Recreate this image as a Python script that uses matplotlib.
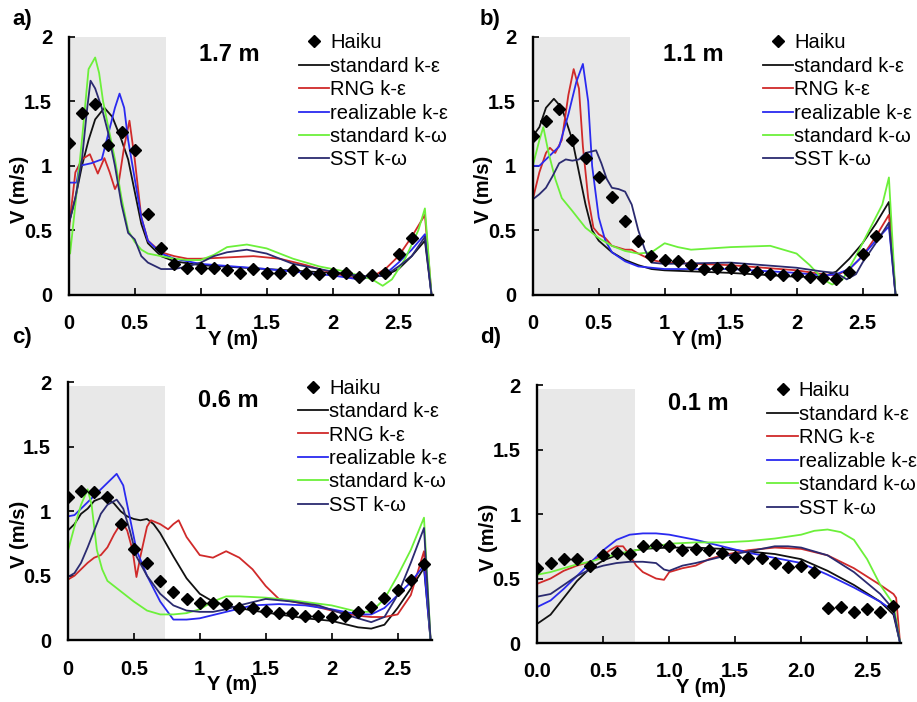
"""Velocity profiles at four heights: Haiku measurements vs five turbulence models."""
import matplotlib.pyplot as plt
import numpy as np

plt.rcParams['font.family'] = ['Liberation Sans', 'DejaVu Sans']

MODELS = ["standard k-ε", "RNG k-ε", "realizable k-ε", "standard k-ω", "SST k-ω"]
COLORS = ["#111111", "#d02a2a", "#2a2af0", "#6cf03a", "#2b2b70"]
HEIGHTS = ["1.7 m", "1.1 m", "0.6 m", "0.1 m"]
PANEL_TAGS = ["a)", "b)", "c)", "d)"]

# measured points (Haiku)
haiku_x = [0.0, 0.1, 0.2, 0.3, 0.4, 0.5, 0.6, 0.7, 0.8, 0.9, 1.0, 1.1, 1.2, 1.3,
           1.4, 1.5, 1.6, 1.7, 1.8, 1.9, 2.0, 2.1, 2.2, 2.3, 2.4, 2.5, 2.6, 2.7]
haiku_a = [1.18, 1.41, 1.48, 1.16, 1.26, 1.12, 0.63, 0.36, 0.24, 0.21, 0.21, 0.21, 0.19, 0.17,
           0.20, 0.17, 0.17, 0.19, 0.17, 0.16, 0.17, 0.17, 0.14, 0.15, 0.17, 0.32, 0.44, None]
haiku_b = [1.23, 1.35, 1.44, 1.20, 1.06, 0.91, 0.76, 0.57, 0.42, 0.30, 0.27, 0.26, 0.23, 0.20,
           0.21, 0.21, 0.20, 0.18, 0.16, 0.15, 0.15, 0.14, 0.13, 0.12, 0.18, 0.32, 0.46, None]
haiku_c = [1.11, 1.16, 1.15, 1.11, 0.90, 0.71, 0.60, 0.46, 0.37, 0.32, 0.29, 0.29, 0.28, 0.25,
           0.25, 0.23, 0.21, 0.21, 0.19, 0.19, 0.18, 0.19, 0.22, 0.26, 0.33, 0.39, 0.47, 0.59]
haiku_d = [0.58, 0.62, 0.65, 0.65, 0.60, 0.68, 0.70, 0.69, 0.75, 0.76, 0.75, 0.72, 0.73, 0.72,
           0.70, 0.67, 0.66, 0.66, 0.62, 0.59, 0.60, 0.55, 0.27, 0.28, 0.24, 0.26, 0.24, 0.29]

# simulated profiles (Y, V) per panel and model
a_std = [(0, 0.55), (0.05, 0.75), (0.1, 1.0), (0.15, 1.2), (0.2, 1.36), (0.27, 1.45), (0.33, 1.38),
         (0.4, 1.2), (0.45, 1.05), (0.5, 0.8), (0.55, 0.55), (0.6, 0.4), (0.7, 0.3), (0.8, 0.26),
         (1.0, 0.23), (1.5, 0.2), (2.0, 0.17), (2.2, 0.14), (2.4, 0.15), (2.5, 0.2), (2.6, 0.3),
         (2.7, 0.42), (2.75, 0)]
a_rng = [(0, 0.5), (0.05, 0.95), (0.1, 1.05), (0.16, 1.09), (0.22, 0.94), (0.27, 1.06), (0.31, 0.95),
         (0.35, 0.82), (0.38, 0.88), (0.42, 1.15), (0.46, 1.35), (0.5, 1.05), (0.55, 0.6), (0.6, 0.42),
         (0.7, 0.33), (0.8, 0.3), (0.9, 0.28), (1.0, 0.28), (1.2, 0.29), (1.4, 0.3), (1.6, 0.28),
         (1.8, 0.23), (2.0, 0.17), (2.2, 0.12), (2.3, 0.14), (2.4, 0.2), (2.5, 0.3), (2.6, 0.45),
         (2.7, 0.62), (2.75, 0)]
a_rea = [(0, 0.87), (0.06, 0.87), (0.08, 1.0), (0.17, 1.02), (0.25, 1.05), (0.3, 1.25), (0.35, 1.45),
         (0.385, 1.56), (0.42, 1.45), (0.45, 1.2), (0.5, 0.9), (0.55, 0.6), (0.6, 0.42), (0.7, 0.32),
         (0.8, 0.28), (1.0, 0.24), (1.5, 0.2), (2.0, 0.15), (2.2, 0.12), (2.4, 0.16), (2.5, 0.25),
         (2.6, 0.35), (2.7, 0.47), (2.75, 0)]
a_skw = [(0, 0.5), (0.01, 0.32), (0.05, 0.7), (0.1, 1.2), (0.15, 1.75), (0.2, 1.84), (0.23, 1.72),
         (0.26, 1.5), (0.3, 1.3), (0.35, 1.05), (0.4, 0.75), (0.45, 0.5), (0.5, 0.41), (0.55, 0.35),
         (0.6, 0.32), (0.7, 0.3), (0.8, 0.28), (0.9, 0.27), (1.0, 0.27), (1.1, 0.31), (1.2, 0.37),
         (1.35, 0.39), (1.5, 0.36), (1.7, 0.28), (1.9, 0.22), (2.1, 0.18), (2.2, 0.15), (2.3, 0.12),
         (2.38, 0.07), (2.45, 0.12), (2.55, 0.28), (2.65, 0.5), (2.7, 0.67), (2.75, 0)]
a_sst = [(0, 0.55), (0.05, 0.75), (0.1, 1.05), (0.14, 1.45), (0.165, 1.66), (0.2, 1.6), (0.25, 1.45),
         (0.3, 1.25), (0.35, 1.0), (0.4, 0.7), (0.45, 0.48), (0.5, 0.43), (0.55, 0.3), (0.6, 0.25),
         (0.7, 0.2), (0.8, 0.2), (0.9, 0.22), (1.0, 0.25), (1.1, 0.3), (1.2, 0.33), (1.35, 0.35),
         (1.5, 0.32), (1.7, 0.24), (1.9, 0.2), (2.1, 0.16), (2.3, 0.14), (2.4, 0.15), (2.5, 0.22),
         (2.6, 0.3), (2.7, 0.45), (2.75, 0)]

b_std = [(0, 1.23), (0.05, 1.3), (0.1, 1.45), (0.16, 1.52), (0.22, 1.45), (0.3, 1.2), (0.35, 0.95),
         (0.4, 0.7), (0.45, 0.5), (0.5, 0.42), (0.6, 0.33), (0.7, 0.27), (0.8, 0.23), (0.9, 0.2),
         (1.0, 0.19), (1.5, 0.17), (2.0, 0.14), (2.2, 0.14), (2.3, 0.18), (2.4, 0.28), (2.5, 0.4),
         (2.6, 0.55), (2.7, 0.72), (2.75, 0)]
b_rng = [(0, 0.74), (0.05, 0.95), (0.1, 1.1), (0.13, 1.14), (0.17, 1.1), (0.22, 1.2), (0.27, 1.55),
         (0.31, 1.75), (0.35, 1.6), (0.38, 1.15), (0.42, 0.75), (0.46, 0.52), (0.5, 0.47), (0.55, 0.44),
         (0.6, 0.38), (0.7, 0.35), (0.75, 0.35), (0.8, 0.32), (0.9, 0.27), (1.0, 0.25), (1.5, 0.23),
         (2.0, 0.19), (2.2, 0.16), (2.3, 0.15), (2.4, 0.2), (2.5, 0.3), (2.6, 0.45), (2.7, 0.62),
         (2.75, 0)]
b_rea = [(0, 1.0), (0.05, 1.0), (0.1, 1.05), (0.2, 1.15), (0.27, 1.4), (0.33, 1.65), (0.38, 1.79),
         (0.42, 1.5), (0.45, 1.0), (0.5, 0.6), (0.55, 0.42), (0.6, 0.33), (0.7, 0.26), (0.8, 0.22),
         (0.9, 0.21), (1.0, 0.2), (1.5, 0.2), (2.0, 0.17), (2.2, 0.15), (2.3, 0.16), (2.4, 0.2),
         (2.5, 0.3), (2.6, 0.42), (2.7, 0.53), (2.75, 0)]
b_skw = [(0, 1.0), (0.05, 1.2), (0.08, 1.3), (0.12, 1.1), (0.17, 0.9), (0.22, 0.75), (0.3, 0.65),
         (0.4, 0.52), (0.5, 0.44), (0.6, 0.38), (0.7, 0.34), (0.8, 0.32), (0.9, 0.33), (1.0, 0.4),
         (1.1, 0.37), (1.2, 0.35), (1.5, 0.37), (1.8, 0.38), (2.0, 0.32), (2.1, 0.23), (2.2, 0.12),
         (2.27, 0.08), (2.35, 0.12), (2.45, 0.3), (2.55, 0.5), (2.65, 0.7), (2.7, 0.91), (2.75, 0)]
b_sst = [(0, 0.74), (0.05, 0.78), (0.1, 0.83), (0.15, 0.92), (0.2, 1.02), (0.25, 1.05), (0.3, 1.04),
         (0.35, 1.05), (0.4, 1.1), (0.48, 1.12), (0.52, 1.02), (0.56, 0.9), (0.6, 0.83), (0.65, 0.82),
         (0.7, 0.8), (0.75, 0.7), (0.8, 0.5), (0.85, 0.35), (0.9, 0.25), (1.0, 0.24), (1.5, 0.25),
         (2.0, 0.21), (2.2, 0.18), (2.3, 0.17), (2.38, 0.12), (2.45, 0.16), (2.5, 0.25), (2.6, 0.4),
         (2.7, 0.56), (2.75, 0)]

c_std = [(0, 0.85), (0.05, 0.9), (0.1, 0.98), (0.15, 1.02), (0.2, 1.08), (0.25, 1.1), (0.3, 1.1),
         (0.35, 1.06), (0.4, 1.0), (0.45, 0.96), (0.5, 0.94), (0.55, 0.93), (0.6, 0.94), (0.65, 0.9),
         (0.7, 0.83), (0.8, 0.65), (0.9, 0.48), (1.0, 0.36), (1.1, 0.3), (1.2, 0.27), (1.4, 0.23),
         (1.6, 0.2), (1.8, 0.17), (2.0, 0.15), (2.2, 0.1), (2.3, 0.09), (2.4, 0.12), (2.5, 0.25),
         (2.6, 0.4), (2.7, 0.56), (2.75, 0)]
c_rng = [(0, 0.47), (0.05, 0.5), (0.1, 0.55), (0.15, 0.6), (0.2, 0.64), (0.25, 0.66), (0.3, 0.72),
         (0.35, 0.82), (0.41, 0.92), (0.45, 0.85), (0.49, 0.7), (0.52, 0.49), (0.55, 0.65), (0.6, 0.88),
         (0.63, 0.93), (0.7, 0.9), (0.76, 0.86), (0.8, 0.9), (0.84, 0.93), (0.9, 0.8), (1.0, 0.66),
         (1.1, 0.64), (1.2, 0.69), (1.3, 0.64), (1.4, 0.55), (1.5, 0.42), (1.6, 0.32), (1.8, 0.28),
         (2.0, 0.23), (2.2, 0.19), (2.3, 0.18), (2.4, 0.18), (2.5, 0.2), (2.6, 0.35), (2.7, 0.69),
         (2.75, 0)]
c_rea = [(0, 0.96), (0.05, 0.97), (0.1, 1.02), (0.2, 1.12), (0.3, 1.22), (0.37, 1.29), (0.42, 1.2),
         (0.47, 0.95), (0.52, 0.7), (0.6, 0.5), (0.7, 0.3), (0.8, 0.16), (0.9, 0.16), (1.0, 0.17),
         (1.2, 0.22), (1.4, 0.27), (1.6, 0.28), (1.8, 0.27), (2.0, 0.24), (2.2, 0.2), (2.3, 0.2),
         (2.4, 0.25), (2.5, 0.35), (2.6, 0.45), (2.7, 0.58), (2.75, 0)]
c_skw = [(0, 0.69), (0.05, 0.88), (0.1, 1.05), (0.15, 1.17), (0.18, 1.05), (0.22, 0.7), (0.26, 0.55),
         (0.3, 0.46), (0.4, 0.38), (0.5, 0.3), (0.6, 0.23), (0.7, 0.2), (0.8, 0.2), (0.9, 0.21),
         (1.0, 0.24), (1.1, 0.3), (1.2, 0.34), (1.3, 0.34), (1.5, 0.33), (1.7, 0.31), (2.0, 0.27),
         (2.2, 0.22), (2.3, 0.22), (2.4, 0.32), (2.5, 0.5), (2.6, 0.7), (2.7, 0.95), (2.75, 0)]
c_sst = [(0, 0.49), (0.05, 0.52), (0.1, 0.6), (0.15, 0.72), (0.2, 0.85), (0.25, 0.98), (0.3, 1.05),
         (0.37, 1.09), (0.42, 1.02), (0.47, 0.85), (0.52, 0.65), (0.6, 0.5), (0.7, 0.36), (0.8, 0.27),
         (0.9, 0.23), (1.0, 0.22), (1.1, 0.22), (1.2, 0.24), (1.3, 0.27), (1.5, 0.32), (1.7, 0.3),
         (1.9, 0.27), (2.1, 0.2), (2.3, 0.14), (2.4, 0.18), (2.5, 0.35), (2.6, 0.6), (2.7, 0.87),
         (2.75, 0)]

d_std = [(0, 0.15), (0.1, 0.22), (0.2, 0.35), (0.3, 0.48), (0.4, 0.58), (0.5, 0.64), (0.6, 0.68),
         (0.7, 0.71), (0.8, 0.73), (1.0, 0.74), (1.2, 0.74), (1.4, 0.73), (1.6, 0.71), (1.8, 0.69),
         (2.0, 0.65), (2.2, 0.56), (2.4, 0.45), (2.6, 0.32), (2.7, 0.22), (2.75, 0)]
d_rng = [(0, 0.46), (0.1, 0.5), (0.2, 0.56), (0.3, 0.6), (0.4, 0.63), (0.5, 0.68), (0.55, 0.72),
         (0.6, 0.75), (0.65, 0.75), (0.7, 0.68), (0.75, 0.6), (0.8, 0.55), (0.9, 0.5), (0.96, 0.49),
         (1.0, 0.55), (1.1, 0.58), (1.2, 0.6), (1.3, 0.65), (1.4, 0.68), (1.6, 0.72), (1.8, 0.74),
         (2.0, 0.73), (2.2, 0.68), (2.4, 0.58), (2.6, 0.45), (2.7, 0.38), (2.72, 0.35), (2.75, 0)]
d_rea = [(0, 0.28), (0.1, 0.33), (0.2, 0.42), (0.3, 0.52), (0.4, 0.62), (0.5, 0.72), (0.6, 0.8),
         (0.7, 0.84), (0.8, 0.85), (0.9, 0.85), (1.0, 0.84), (1.2, 0.8), (1.4, 0.75), (1.6, 0.7),
         (1.8, 0.66), (2.0, 0.62), (2.2, 0.53), (2.4, 0.43), (2.6, 0.32), (2.7, 0.25), (2.75, 0)]
d_skw = [(0, 0.53), (0.1, 0.55), (0.2, 0.58), (0.3, 0.61), (0.4, 0.63), (0.5, 0.66), (0.6, 0.69),
         (0.7, 0.71), (0.8, 0.73), (1.0, 0.77), (1.2, 0.78), (1.4, 0.78), (1.6, 0.79), (1.8, 0.81),
         (2.0, 0.84), (2.1, 0.87), (2.2, 0.88), (2.3, 0.86), (2.4, 0.8), (2.5, 0.65), (2.6, 0.45),
         (2.7, 0.3), (2.75, 0)]
d_sst = [(0, 0.36), (0.1, 0.38), (0.2, 0.45), (0.3, 0.52), (0.4, 0.57), (0.5, 0.6), (0.6, 0.62),
         (0.7, 0.63), (0.8, 0.63), (0.9, 0.62), (0.96, 0.57), (1.0, 0.56), (1.1, 0.6), (1.2, 0.62),
         (1.4, 0.67), (1.6, 0.71), (1.8, 0.75), (1.9, 0.75), (2.0, 0.74), (2.2, 0.68), (2.4, 0.55),
         (2.6, 0.38), (2.7, 0.26), (2.75, 0)]

panels = [
    (haiku_a, [a_std, a_rng, a_rea, a_skw, a_sst]),
    (haiku_b, [b_std, b_rng, b_rea, b_skw, b_sst]),
    (haiku_c, [c_std, c_rng, c_rea, c_skw, c_sst]),
    (haiku_d, [d_std, d_rng, d_rea, d_skw, d_sst]),
]

fig = plt.figure(figsize=(9.17, 7.02), dpi=100)
boxes = [[0.075, 0.580, 0.397, 0.3675], [0.581, 0.580, 0.397, 0.3675],
         [0.074, 0.088, 0.397, 0.3675], [0.586, 0.084, 0.397, 0.3675]]
# panel tag positions in figure pixels (x, y from top)
tag_px = [(12, 20), (480, 20), (12, 338), (480, 338)]

for i, (haiku, curves) in enumerate(panels):
    ax = fig.add_axes(boxes[i])
    ax.fill_between([0, 0.74], 0, 2 if i < 2 else 1.97, color="#e8e8e8", lw=0, zorder=0)

    hx = [x for x, v in zip(haiku_x, haiku) if v is not None]
    hv = [v for v in haiku if v is not None]
    ax.plot(hx, hv, ls="none", marker="D", ms=6, color="black", label="Haiku", zorder=5)
    for pts, name, col in zip(curves, MODELS, COLORS):
        xy = np.array(pts)
        ax.plot(xy[:, 0], xy[:, 1], color=col, lw=1.3, label=name)

    ax.set_xlim(0, 2.76)
    ax.set_ylim(0, 2)
    ax.set_yticks([0, 0.5, 1, 1.5, 2])
    ax.set_yticklabels(["0", "0.5", "1", "1.5", "2"])
    ax.set_xticks([0, 0.5, 1, 1.5, 2, 2.5])
    if i == 3:
        ax.set_xticklabels(["0.0", "0.5", "1.0", "1.5", "2.0", "2.5"])
    else:
        ax.set_xticklabels(["0", "0.5", "1", "1.5", "2", "2.5"])
    for lab in ax.get_xticklabels() + ax.get_yticklabels():
        lab.set_fontweight("bold")
        lab.set_fontsize(14.5)
    ax.tick_params(axis="x", direction="in", length=5, width=1.2, pad=14)
    ax.tick_params(axis="y", direction="in", length=4, width=1.2, pad=12)
    for s in ("top", "right"):
        ax.spines[s].set_visible(False)
    for s in ("left", "bottom"):
        ax.spines[s].set_linewidth(1.7)

    ax.set_xlabel("Y (m)", fontsize=14.5, fontweight="bold")
    ax.xaxis.set_label_coords(0.45, -0.135)
    ax.set_ylabel("V (m/s)", fontsize=14.5, fontweight="bold")
    ax.yaxis.set_label_coords(-0.108, 0.41)
    ax.text(1.22, 1.86, HEIGHTS[i], fontsize=17, fontweight="bold", ha="center", va="center")
    fig.text(tag_px[i][0] / 917, 1 - tag_px[i][1] / 702, PANEL_TAGS[i], fontsize=16,
             fontweight="bold", ha="left", va="center")

    ax.legend(loc="upper left", bbox_to_anchor=(0.61, 1.045), frameon=False, fontsize=14.5,
              handlelength=1.5, handletextpad=0.05, labelspacing=0.22, borderaxespad=0)

fig.savefig("out.png", dpi=100)
